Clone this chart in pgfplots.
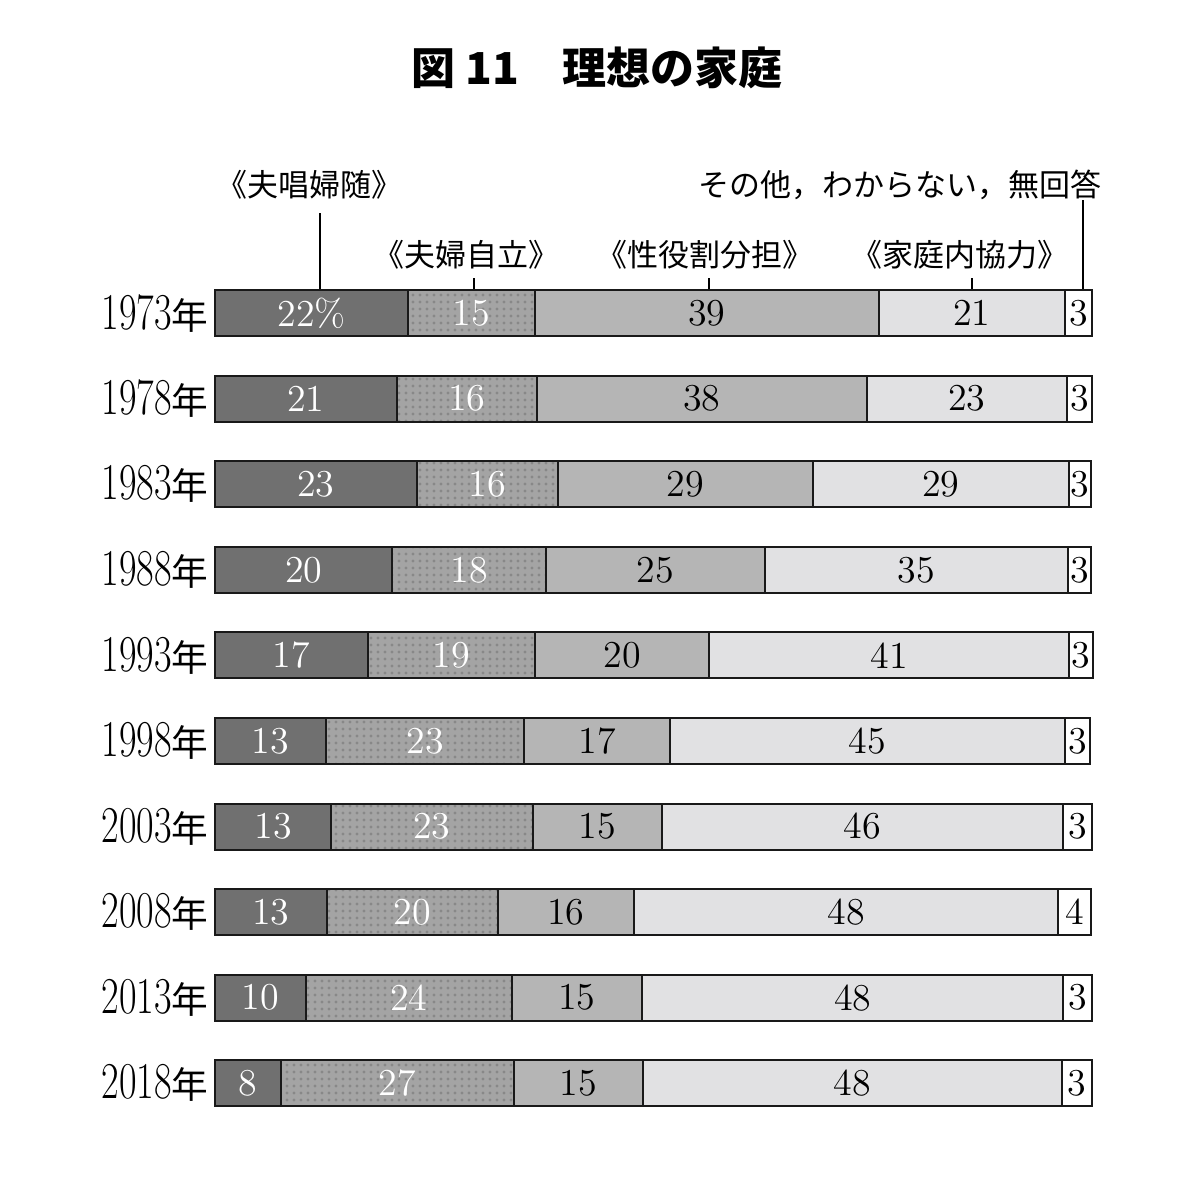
\documentclass[border=0pt]{standalone}
\usepackage{pgfplots}
\pgfplotsset{compat=1.18}
\usepackage{pgfplotstable}
\usepackage{fontspec}
\usepackage{graphicx}
\usetikzlibrary{patterns.meta}
\newfontfamily\cjk{Noto Sans CJK JP}
\definecolor{cA}{HTML}{707070}
\definecolor{cB}{HTML}{A4A4A4}
\definecolor{cBd}{HTML}{888888}
\definecolor{cC}{HTML}{B5B5B5}
\definecolor{cD}{HTML}{E1E1E3}
\definecolor{cE}{HTML}{FFFFFF}
\newcommand\yl[1]{\scalebox{0.74}[1]{\fontsize{15.5}{18}\selectfont #1}{\fontsize{11}{13}\cjk 年}}
\pgfplotstableread{
y a b c d e la lb lc ld le
0 22.01 14.48 39.22 21.21 3.08 {22\%} 15 39 21 3
1 20.75 15.96 37.63 22.81 2.85 21 16 38 23 3
2 23.00 16.11 29.04 29.22 2.51 23 16 29 29 3
3 20.22 17.49 25.01 34.51 2.66 20 18 25 35 3
4 17.45 19.04 19.84 41.08 2.70 17 19 20 41 3
5 12.66 22.58 16.68 44.97 2.88 13 23 17 45 3
6 13.26 22.96 14.71 45.79 3.27 13 23 15 46 3
7 12.74 19.53 15.47 48.42 3.73 13 20 16 48 4
8 10.38 23.45 14.89 48.00 3.27 10 24 15 48 3
9 7.53 26.57 14.71 47.78 3.42 8 27 15 48 3
}\data
\begin{document}
\begin{tikzpicture}
\path[use as bounding box] (-64.5pt,-21.6pt) rectangle (288.6pt,337.8pt);
\begin{axis}[
  scale only axis, width=263.1pt, height=256.7pt,
  xbar stacked, bar width=13.8pt,
  xmin=0, xmax=100, ymin=-0.5, ymax=9.5, y dir=reverse,
  enlargelimits=false, clip=false,
  axis line style={draw=none}, tick style={draw=none},
  xtick=\empty, ytick={0,...,9},
  yticklabels={\yl{1973},\yl{1978},\yl{1983},\yl{1988},\yl{1993},\yl{1998},\yl{2003},\yl{2008},\yl{2013},\yl{2018}},
  yticklabel style={anchor=east, inner sep=0pt, xshift=-1.8pt},
  every axis plot/.append style={draw=black!90, line width=0.6pt},
  point meta=explicit symbolic,
  nodes near coords,
  nodes near coords style={anchor=center, inner sep=0pt, font=\fontsize{11.4}{13}\selectfont},
]
\addplot[fill=cA, every node near coord/.append style={text=white}] table[x=a, y=y, meta=la]{\data};
\addplot[fill=cB, postaction={pattern={Dots[distance=2.1pt, radius=0.5pt]}, pattern color=cBd}, every node near coord/.append style={text=white}] table[x=b, y=y, meta=lb]{\data};
\addplot[fill=cC, every node near coord/.append style={text=black}] table[x=c, y=y, meta=lc]{\data};
\addplot[fill=cD, every node near coord/.append style={text=black}] table[x=d, y=y, meta=ld]{\data};
\addplot[fill=cE, every node near coord/.append style={text=black}] table[x=e, y=y, meta=le]{\data};

\node[font=\fontsize{13.2}{16}\selectfont\cjk\bfseries] at (axis cs:43.56,-2.864) {図 11　理想の家庭};
\node[font=\fontsize{9.3}{11}\selectfont\cjk] at (axis cs:10.83,-1.50) {《夫唱婦随》};
\node[font=\fontsize{9.3}{11}\selectfont\cjk] at (axis cs:78.1,-1.50) {その他，わからない，無回答};
\node[font=\fontsize{9.3}{11}\selectfont\cjk] at (axis cs:28.73,-0.678) {《夫婦自立》};
\node[font=\fontsize{9.3}{11}\selectfont\cjk] at (axis cs:55.87,-0.678) {《性役割分担》};
\node[font=\fontsize{9.3}{11}\selectfont\cjk] at (axis cs:84.95,-0.678) {《家庭内協力》};
\draw[line width=0.45pt] (axis cs:11.97,-1.169) -- (axis cs:11.97,-0.269);
\draw[line width=0.45pt] (axis cs:29.53,-0.409) -- (axis cs:29.53,-0.269);
\draw[line width=0.45pt] (axis cs:56.33,-0.409) -- (axis cs:56.33,-0.269);
\draw[line width=0.45pt] (axis cs:86.32,-0.409) -- (axis cs:86.32,-0.269);
\draw[line width=0.45pt] (axis cs:98.97,-1.32) -- (axis cs:98.97,-0.269);
\end{axis}
\end{tikzpicture}
\end{document}
